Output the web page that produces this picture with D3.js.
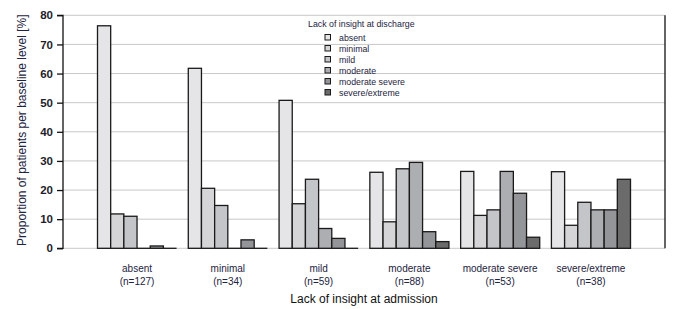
<!DOCTYPE html>
<html><head><meta charset="utf-8">
<script src="https://cdn.jsdelivr.net/npm/d3@7"></script>
<style>
body{margin:0;background:#fff;}
text{font-family:"Liberation Sans",Arial,sans-serif;}
</style></head>
<body><svg id="c" width="692" height="309"></svg>
<script>
const categories = ["absent","minimal","mild","moderate","moderate severe","severe/extreme"];
const sampleSizes = ["n=127","n=34","n=59","n=88","n=53","n=38"];
const seriesNames = ["absent","minimal","mild","moderate","moderate severe","severe/extreme"];
const sAbsent = [76.4, 61.8, 50.8, 26.1, 26.4, 26.3];
const sMinimal = [11.8, 20.6, 15.3, 9.1, 11.3, 7.9];
const sMild = [11.0, 14.7, 23.7, 27.3, 13.2, 15.8];
const sModerate = [0, 0, 6.8, 29.5, 26.4, 13.2];
const sModSevere = [0.8, 2.9, 3.4, 5.7, 18.9, 13.2];
const sSevere = [0, 0, 0, 2.3, 3.8, 23.7];
const series = [sAbsent, sMinimal, sMild, sModerate, sModSevere, sSevere];
const yTicks = [0,10,20,30,40,50,60,70,80];
const colors = ["#e5e5e8","#d5d5d7","#c4c5c8","#adaeb1","#949598","#6b6b6c"];

const svg = d3.select("#c");
const mLeft = 63, mRight = 665, mTop = 15.3, mBottom = 248.3;
const x = d3.scaleBand().domain(categories).range([mLeft, mRight]).paddingInner(0.129).paddingOuter(0.38);
const xs = d3.scaleBand().domain(seriesNames).range([0, x.bandwidth()]);
const y = d3.scaleLinear().domain([0,80]).range([mBottom, mTop]);

// gridlines
svg.append("g").selectAll("line").data(yTicks).join("line")
  .attr("x1", mLeft).attr("x2", mRight)
  .attr("y1", d=>y(d)).attr("y2", d=>y(d))
  .attr("stroke", "#c8c8c8").attr("stroke-width", 1);

// right border
svg.append("line").attr("x1", mRight).attr("x2", mRight).attr("y1", y(80)).attr("y2", y(0))
  .attr("stroke", "#111").attr("stroke-width", 1.3);

// bars
const g = svg.append("g");
categories.forEach((c, ci) => {
  seriesNames.forEach((s, si) => {
    const v = series[si][ci];
    const bx = x(c) + xs(s);
    if (v > 0) {
      g.append("rect")
        .attr("x", bx)
        .attr("y", y(v))
        .attr("width", xs.bandwidth())
        .attr("height", y(0) - y(v))
        .attr("fill", colors[si])
        .attr("stroke", "#1a1a1a").attr("stroke-width", 1.3);
    } else {
      g.append("line")
        .attr("x1", bx).attr("x2", bx + xs.bandwidth())
        .attr("y1", y(0)).attr("y2", y(0))
        .attr("stroke", "#1a1a1a").attr("stroke-width", 1.3);
    }
  });
});

// y axis
const yAxis = svg.append("g").attr("transform", `translate(${mLeft},0)`)
  .call(d3.axisLeft(y).tickValues(yTicks).tickSize(6).tickPadding(4));
yAxis.select(".domain").attr("stroke", "#111").attr("stroke-width", 1.3).attr("d", `M-6,${y(80)}H0V${y(0)}H-6`);
yAxis.selectAll(".tick line").attr("stroke", "#111").attr("stroke-width", 1.3);
yAxis.selectAll(".tick text").attr("font-size", 11.5).attr("font-weight", "bold").attr("fill", "#1d1d2b")
  .attr("font-family", "Liberation Sans, Arial, sans-serif");

// x category labels
const xl = svg.append("g");
categories.forEach((c, ci) => {
  const cx = x(c) + x.bandwidth()/2;
  xl.append("text").attr("x", cx).attr("y", 272).attr("text-anchor", "middle")
    .attr("font-size", 10).attr("fill", "#1d2340").text(c);
  xl.append("text").attr("x", cx).attr("y", 284.5).attr("text-anchor", "middle")
    .attr("font-size", 10).attr("fill", "#1d2340").text("(" + sampleSizes[ci] + ")");
});

// axis titles
svg.append("text").attr("x", (mLeft+mRight)/2).attr("y", 302.5).attr("text-anchor", "middle")
  .attr("font-size", 12).attr("fill", "#111").text("Lack of insight at admission");
svg.append("text").attr("transform", `translate(26,${(y(0)+10)/2+1}) rotate(-90)`)
  .attr("text-anchor", "middle").attr("font-size", 12).attr("fill", "#1d2340")
  .text("Proportion of patients per baseline level [%]");

// legend
const lg = svg.append("g");
lg.append("text").attr("x", 308).attr("y", 27).attr("font-size", 8.8).attr("fill", "#1d2340")
  .text("Lack of insight at discharge");
seriesNames.forEach((s, i) => {
  const cy = 37.5 + i*11;
  lg.append("rect").attr("x", 325).attr("y", cy-3).attr("width", 5.5).attr("height", 5.5)
    .attr("fill", colors[i]).attr("stroke", "#1a1a1a").attr("stroke-width", 1);
  lg.append("text").attr("x", 339).attr("y", cy+3.3).attr("font-size", 8.8).attr("fill", "#1d2340").text(s);
});
</script></body></html>
